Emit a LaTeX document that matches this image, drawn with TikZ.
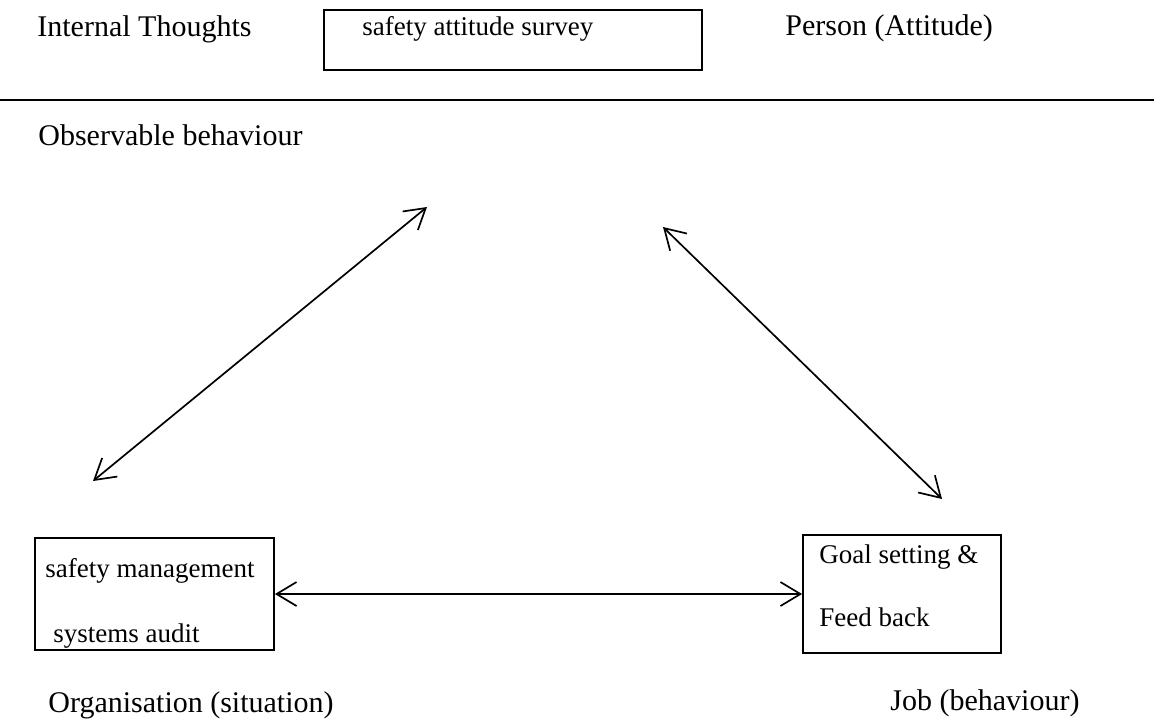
\documentclass[tikz,border=0pt]{standalone}
\usepackage{fontspec}
\setmainfont{Liberation Serif}
\usetikzlibrary{arrows.meta}

\begin{document}
\begin{tikzpicture}[x=0.5pt,y=-0.5pt]
\tikzset{
  heading/.style={anchor=base west,inner sep=0pt,font=\fontsize{15}{18}\selectfont},
  boxtext/.style={anchor=base west,inner sep=0pt,font=\fontsize{13.5}{16}\selectfont},
  box/.style={draw,line width=0.9pt,inner sep=0pt},
  twoway/.style={{Straight Barb[length=10pt,width=12pt]}-{Straight Barb[length=10pt,width=12pt]},line width=0.85pt}
}
\useasboundingbox (0,0) rectangle (1154,720);
% top row
\node[heading] (n_internal) at (37,36) {Internal Thoughts};
\node[box,minimum width=189pt,minimum height=30pt] (n_surveybox) at (513,40) {};
\node[boxtext] (n_survey) at (362,35) {safety attitude survey};
\node[heading] (n_person) at (785,35) {Person (Attitude)};
\coordinate (c_lineleft) at (0,100);
\coordinate (c_lineright) at (1154,100);
\draw[line width=0.85pt] (c_lineleft) -- (c_lineright);
\node[heading] (n_observable) at (38,145) {Observable behaviour};
% boxes at the bottom
\node[box,minimum width=119.5pt,minimum height=56pt] (n_smabox) at (154.5,594) {};
\node[boxtext] (n_sma1) at (45,577) {safety management};
\node[boxtext] (n_sma2) at (53,642) {systems audit};
\node[box,minimum width=99pt,minimum height=59pt] (n_goalbox) at (902,594) {};
\node[boxtext] (n_goal1) at (819,563) {Goal setting \&};
\node[boxtext] (n_goal2) at (819,626) {Feed back};
\node[heading] (n_org) at (48,712) {Organisation (situation)};
\node[heading] (n_job) at (890,710) {Job (behaviour)};
% arrows
\coordinate (c_lefttop) at (427,207);
\coordinate (c_leftbottom) at (93,481);
\coordinate (c_righttop) at (663,227);
\coordinate (c_rightbottom) at (942,499);
\draw[twoway] (c_leftbottom) -- (c_lefttop);
\draw[twoway] (c_righttop) -- (c_rightbottom);
\draw[twoway] (n_smabox.east) -- (n_goalbox.west);
\end{tikzpicture}
\end{document}
